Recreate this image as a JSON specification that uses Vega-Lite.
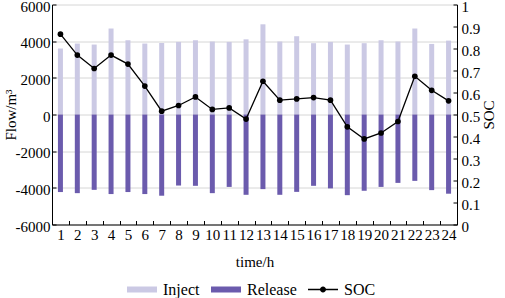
{
  "$schema": "https://vega.github.io/schema/vega-lite/v6.json",
  "width": 405,
  "height": 220,
  "autosize": {"type": "none"},
  "padding": {"left": 52, "top": 4.5, "right": 48, "bottom": 73.5},
  "config": {
    "view": {"stroke": null},
    "font": "Liberation Serif",
    "axis": {
      "domainColor": "black",
      "domainWidth": 1,
      "tickColor": "black",
      "tickSize": -4,
      "labelColor": "black",
      "titleColor": "black",
      "labelFont": "Liberation Serif",
      "titleFont": "Liberation Serif",
      "labelFontSize": 15,
      "titleFontSize": 15,
      "titleFontWeight": "normal",
      "labelOverlap": false,
      "gridColor": "#d6d6d6",
      "gridWidth": 1
    },
    "legend": {"labelFont": "Liberation Serif"}
  },
  "datasets": {
    "flows": [
      {"h": 1, "type": "Inject", "flow": 3600}, {"h": 1, "type": "Release", "flow": -4230},
      {"h": 2, "type": "Inject", "flow": 3870}, {"h": 2, "type": "Release", "flow": -4290},
      {"h": 3, "type": "Inject", "flow": 3815}, {"h": 3, "type": "Release", "flow": -4110},
      {"h": 4, "type": "Inject", "flow": 4690}, {"h": 4, "type": "Release", "flow": -4340},
      {"h": 5, "type": "Inject", "flow": 4050}, {"h": 5, "type": "Release", "flow": -4230},
      {"h": 6, "type": "Inject", "flow": 3870}, {"h": 6, "type": "Release", "flow": -4340},
      {"h": 7, "type": "Inject", "flow": 3900}, {"h": 7, "type": "Release", "flow": -4430},
      {"h": 8, "type": "Inject", "flow": 3960}, {"h": 8, "type": "Release", "flow": -3875},
      {"h": 9, "type": "Inject", "flow": 4050}, {"h": 9, "type": "Release", "flow": -3890},
      {"h": 10, "type": "Inject", "flow": 3980}, {"h": 10, "type": "Release", "flow": -4290},
      {"h": 11, "type": "Inject", "flow": 3960}, {"h": 11, "type": "Release", "flow": -3950},
      {"h": 12, "type": "Inject", "flow": 4100}, {"h": 12, "type": "Release", "flow": -4380},
      {"h": 13, "type": "Inject", "flow": 4920}, {"h": 13, "type": "Release", "flow": -4070},
      {"h": 14, "type": "Inject", "flow": 3980}, {"h": 14, "type": "Release", "flow": -4380},
      {"h": 15, "type": "Inject", "flow": 4270}, {"h": 15, "type": "Release", "flow": -4220},
      {"h": 16, "type": "Inject", "flow": 3890}, {"h": 16, "type": "Release", "flow": -3890},
      {"h": 17, "type": "Inject", "flow": 3960}, {"h": 17, "type": "Release", "flow": -4030},
      {"h": 18, "type": "Inject", "flow": 3815}, {"h": 18, "type": "Release", "flow": -4400},
      {"h": 19, "type": "Inject", "flow": 3890}, {"h": 19, "type": "Release", "flow": -4160},
      {"h": 20, "type": "Inject", "flow": 4050}, {"h": 20, "type": "Release", "flow": -3950},
      {"h": 21, "type": "Inject", "flow": 3980}, {"h": 21, "type": "Release", "flow": -3730},
      {"h": 22, "type": "Inject", "flow": 4690}, {"h": 22, "type": "Release", "flow": -3620},
      {"h": 23, "type": "Inject", "flow": 3850}, {"h": 23, "type": "Release", "flow": -4125},
      {"h": 24, "type": "Inject", "flow": 4030}, {"h": 24, "type": "Release", "flow": -4320}
    ],
    "soc": [
      {"h": 1, "soc": 0.865}, {"h": 2, "soc": 0.77}, {"h": 3, "soc": 0.709},
      {"h": 4, "soc": 0.77}, {"h": 5, "soc": 0.729}, {"h": 6, "soc": 0.629},
      {"h": 7, "soc": 0.515}, {"h": 8, "soc": 0.541}, {"h": 9, "soc": 0.58},
      {"h": 10, "soc": 0.523}, {"h": 11, "soc": 0.53}, {"h": 12, "soc": 0.479},
      {"h": 13, "soc": 0.651}, {"h": 14, "soc": 0.565}, {"h": 15, "soc": 0.571},
      {"h": 16, "soc": 0.577}, {"h": 17, "soc": 0.565}, {"h": 18, "soc": 0.444},
      {"h": 19, "soc": 0.389}, {"h": 20, "soc": 0.416}, {"h": 21, "soc": 0.468},
      {"h": 22, "soc": 0.674}, {"h": 23, "soc": 0.61}, {"h": 24, "soc": 0.562}
    ]
  },
  "encoding": {
    "x": {
      "field": "h",
      "type": "ordinal",
      "scale": {"paddingInner": 0, "paddingOuter": 0},
      "axis": {
        "title": "time/h",
        "titleFontWeight": "normal",
        "labelFont": "Liberation Serif",
        "labelAngle": 0,
        "tickBand": "extent",
        "labelOverlap": false,
        "grid": false,
        "labelPadding": 7,
        "titleY": 37,
        "titleBaseline": "middle"
      }
    }
  },
  "layer": [
    {
      "data": {"name": "flows"},
      "mark": {"type": "bar", "size": 5},
      "encoding": {
        "y": {
          "field": "flow",
          "type": "quantitative",
          "stack": null,
          "scale": {"domain": [-6000, 6000]},
          "axis": {
            "title": "Flow/m³",
            "titleFontWeight": "normal",
            "labelFont": "Liberation Serif",
            "values": [-6000, -4000, -2000, 0, 2000, 4000, 6000],
            "grid": true,
            "labelExpr": "'' + datum.value",
            "labelPadding": 6,
            "labelOffset": 1.5,
            "labelOverlap": false,
            "titleX": -42,
            "titleY": 110,
            "titleAngle": -90,
            "titleBaseline": "middle",
            "titleAlign": "center"
          }
        },
        "color": {
          "field": "type",
          "type": "nominal",
          "scale": {"domain": ["Inject", "Release", "SOC"], "range": ["#cbc9e4", "#6b5bad", "#000000"]},
          "legend": {
            "title": null,
            "orient": "none",
            "legendX": 75,
            "legendY": 270,
            "direction": "horizontal",
            "symbolSize": 900,
            "labelFont": "Liberation Serif",
            "labelFontSize": 16,
            "labelColor": "black",
            "labelOffset": 6,
            "columnPadding": 11,
            "encode": {
              "symbols": {
                "update": {
                  "shape": {"signal": "datum.value === 'SOC' ? 'M-1,-0.05H1V0.05H-1Z M0.2,0A0.2,0.2 0 1,1 -0.2,0A0.2,0.2 0 1,1 0.2,0Z' : 'M-1,-0.2H1V0.2H-1Z'"},
                  "fill": {"signal": "scale('color', datum.value)"},
                  "stroke": {"value": "transparent"},
                  "strokeWidth": {"value": 0},
                  "opacity": {"value": 1}
                }
              }
            }
          }
        }
      }
    },
    {
      "data": {"name": "soc"},
      "mark": {"type": "line", "strokeWidth": 1.3, "point": {"filled": true, "size": 32}},
      "encoding": {
        "y": {
          "field": "soc",
          "type": "quantitative",
          "scale": {"domain": [0, 1]},
          "axis": {
            "orient": "right",
            "title": "SOC",
            "titleFontWeight": "normal",
            "labelFont": "Liberation Serif",
            "values": [0, 0.1, 0.2, 0.3, 0.4, 0.5, 0.6, 0.7, 0.8, 0.9, 1],
            "grid": false,
            "labelExpr": "'' + datum.value",
            "labelPadding": 8,
            "labelOffset": 1.5,
            "labelOverlap": false,
            "titleX": 31,
            "titleY": 110,
            "titleAngle": -90,
            "titleBaseline": "middle",
            "titleAlign": "center"
          }
        },
        "color": {"datum": "SOC", "type": "nominal"}
      }
    }
  ],
  "resolve": {"scale": {"y": "independent"}}
}
